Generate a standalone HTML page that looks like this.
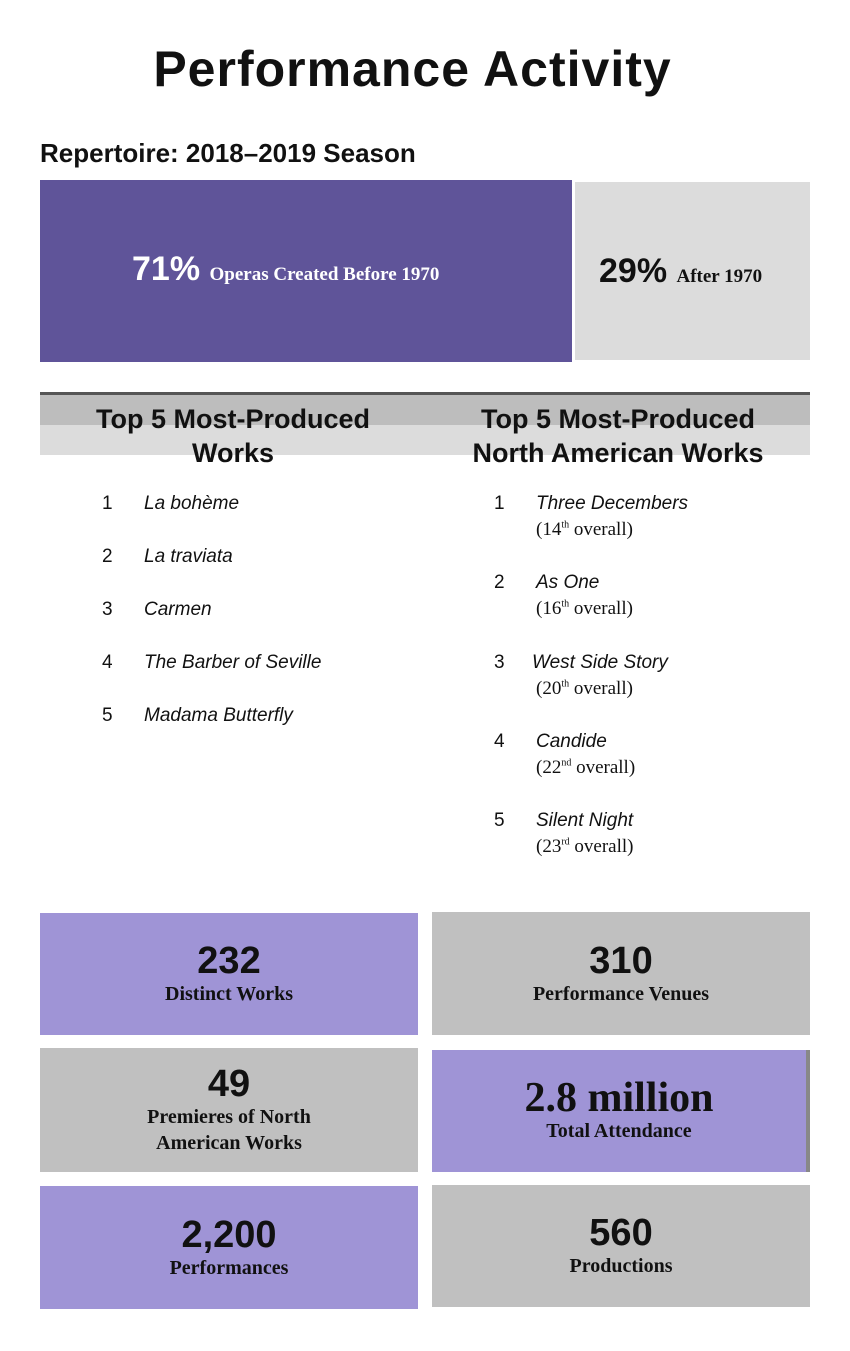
<!DOCTYPE html>
<html><head><style>
body{margin:0;width:850px;height:1351px;background:#fff;position:relative;font-family:"Liberation Sans",sans-serif;color:#111;overflow:hidden}
.a{position:absolute}
.t{left:0;width:825px;text-align:center;top:40px;font-size:50px;font-weight:bold;letter-spacing:1px}
.sub{left:40px;top:138px;font-size:26px;font-weight:bold}
.hd{font-size:27px;font-weight:bold;text-align:center;line-height:34px;width:380px}
.n{font-size:19px}
.it{font-style:italic;font-size:19px;font-family:"Liberation Sans",sans-serif}
.ov{font-family:"Liberation Serif",serif;font-size:19px}
.box{position:absolute;text-align:center;display:flex;flex-direction:column;justify-content:center;align-items:center}
.box b{font-size:38px;line-height:40px}
.box span{font-family:"Liberation Serif",serif;font-weight:bold;font-size:20px;line-height:26px}
.p{background:#9f94d6}.g{background:#c0c0c0}
sup{font-size:10px}
</style></head><body>
<div class="a t">Performance Activity</div>
<div class="a sub">Repertoire: 2018–2019 Season</div>
<div class="a" style="left:40px;top:180px;width:532px;height:182px;background:#5f5499"></div>
<div class="a" style="left:575px;top:182px;width:235px;height:178px;background:#dcdcdc"></div>
<div class="a" style="left:132px;top:250px;color:#fff;font-size:34px;font-weight:bold">71% <span style="font-family:'Liberation Serif',serif;font-size:19px">Operas Created Before 1970</span></div>
<div class="a" style="left:599px;top:252px;font-size:34px;font-weight:bold">29% <span style="font-family:'Liberation Serif',serif;font-size:19px">After 1970</span></div>
<div class="a" style="left:40px;top:392px;width:770px;height:3px;background:#555"></div>
<div class="a" style="left:40px;top:395px;width:770px;height:30px;background:#bdbdbd"></div>
<div class="a" style="left:40px;top:425px;width:770px;height:30px;background:#dcdcdc"></div>
<div class="a hd" style="left:43px;top:402px">Top 5 Most-Produced<br>Works</div>
<div class="a hd" style="left:428px;top:402px;width:380px">Top 5 Most-Produced<br>North American Works</div>

<div class="a n" style="left:102px;top:493px">1</div><div class="a it" style="left:144px;top:493px">La bohème</div>
<div class="a n" style="left:102px;top:546px">2</div><div class="a it" style="left:144px;top:546px">La traviata</div>
<div class="a n" style="left:102px;top:599px">3</div><div class="a it" style="left:144px;top:599px">Carmen</div>
<div class="a n" style="left:102px;top:652px">4</div><div class="a it" style="left:144px;top:652px">The Barber of Seville</div>
<div class="a n" style="left:102px;top:705px">5</div><div class="a it" style="left:144px;top:705px">Madama Butterfly</div>

<div class="a n" style="left:494px;top:493px">1</div><div class="a it" style="left:536px;top:493px">Three Decembers</div><div class="a ov" style="left:536px;top:519px">(14<sup>th</sup> overall)</div>
<div class="a n" style="left:494px;top:572px">2</div><div class="a it" style="left:536px;top:572px">As One</div><div class="a ov" style="left:536px;top:598px">(16<sup>th</sup> overall)</div>
<div class="a n" style="left:494px;top:652px">3</div><div class="a it" style="left:532px;top:652px">West Side Story</div><div class="a ov" style="left:536px;top:678px">(20<sup>th</sup> overall)</div>
<div class="a n" style="left:494px;top:731px">4</div><div class="a it" style="left:536px;top:731px">Candide</div><div class="a ov" style="left:536px;top:757px">(22<sup>nd</sup> overall)</div>
<div class="a n" style="left:494px;top:810px">5</div><div class="a it" style="left:536px;top:810px">Silent Night</div><div class="a ov" style="left:536px;top:836px">(23<sup>rd</sup> overall)</div>

<div class="box p" style="left:40px;top:913px;width:378px;height:122px"><b>232</b><span>Distinct Works</span></div>
<div class="box g" style="left:432px;top:912px;width:378px;height:123px"><b>310</b><span>Performance Venues</span></div>
<div class="box g" style="left:40px;top:1048px;width:378px;height:124px"><b>49</b><span>Premieres of North<br>American Works</span></div>
<div class="box p" style="left:432px;top:1050px;width:378px;height:122px;border-right:4px solid #888;box-sizing:border-box"><b style="font-family:'Liberation Serif',serif;font-size:42px">2.8 million</b><span>Total Attendance</span></div>
<div class="box p" style="left:40px;top:1186px;width:378px;height:123px"><b>2,200</b><span>Performances</span></div>
<div class="box g" style="left:432px;top:1185px;width:378px;height:122px"><b>560</b><span>Productions</span></div>
</body></html>
